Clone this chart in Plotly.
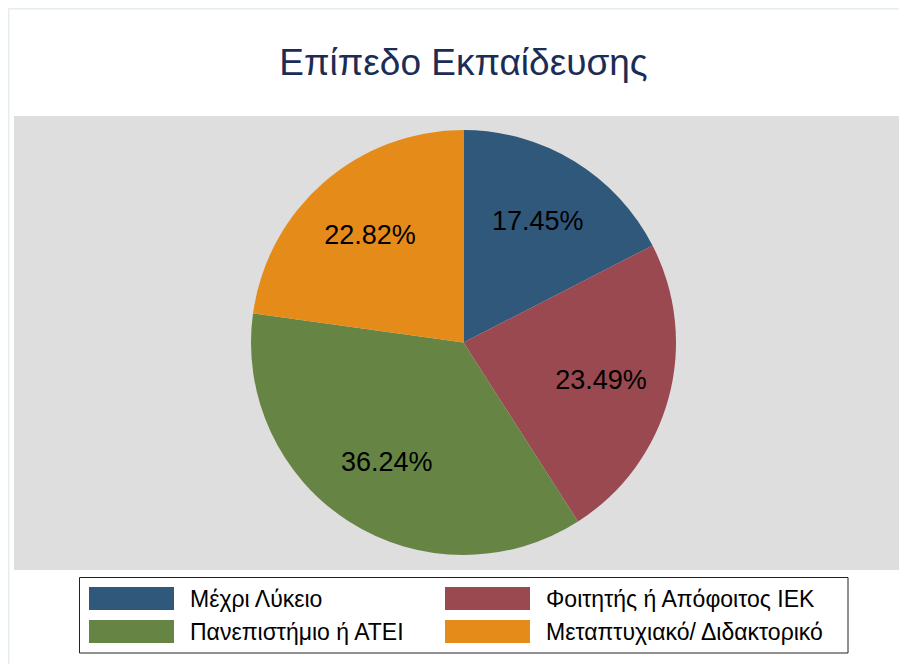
import plotly.graph_objects as go

# data
labels = ["Μέχρι Λύκειο", "Φοιτητής ή Απόφοιτος ΙΕΚ", "Πανεπιστήμιο ή ΑΤΕΙ", "Μεταπτυχιακό/ Διδακτορικό"]
shares = [17.45, 23.49, 36.24, 22.82]
colors = ["#30587b", "#9a4950", "#668443", "#e58b19"]

# the page body has an 8px margin, so the figure starts at (8, 8) in the window
OFF = 8
W, H = 907 - OFF, 664 - OFF
FONT = "Liberation Sans, Arial, sans-serif"

# plot region (gray), given in window pixels
L, R, T, B = 14 - OFF, 0, 116 - OFF, 94
PW, PH = W - L - R, H - T - B


def px_x(x):
    return (x - OFF - L) / PW


def px_y(y):
    return (H - B - (y - OFF)) / PH


pie_domain = dict(x=[px_x(20), px_x(907)], y=[px_y(555), px_y(130)])

fig = go.Figure()
# the slices
fig.add_trace(go.Pie(
    labels=labels,
    values=shares,
    sort=False,
    direction="clockwise",
    rotation=0,
    marker=dict(colors=colors, line=dict(width=0)),
    textinfo="none",
    hoverinfo="label+percent",
    domain=pie_domain,
    showlegend=False,
))
# transparent ring on top that carries the percentage labels at ~2/3 radius
fig.add_trace(go.Pie(
    labels=labels,
    values=shares,
    sort=False,
    direction="clockwise",
    rotation=0,
    hole=0.34,
    marker=dict(colors=["rgba(0,0,0,0)"] * len(shares), line=dict(width=0)),
    texttemplate="%{value:.2f}%",
    textposition="inside",
    insidetextorientation="horizontal",
    textfont=dict(family=FONT, size=27, color="#000000"),
    hoverinfo="skip",
    domain=pie_domain,
    showlegend=False,
))

shapes = [
    # light outer frame
    dict(type="line", xref="paper", yref="paper", x0=px_x(8), x1=px_x(907), y0=px_y(8.5), y1=px_y(8.5),
         line=dict(color="#e6edf1", width=2)),
    dict(type="line", xref="paper", yref="paper", x0=px_x(8.5), x1=px_x(8.5), y0=px_y(8), y1=px_y(664),
         line=dict(color="#e6edf1", width=2)),
    # legend box
    dict(type="rect", xref="paper", yref="paper", x0=px_x(79.5), x1=px_x(848), y0=px_y(577.5), y1=px_y(653),
         line=dict(color="#222222", width=1), fillcolor="white"),
]
annotations = []

# legend: 2 columns, swatch + text
col_x = [89, 445]
row_y = [587, 620]
for i, (lab, col) in enumerate(zip(labels, colors)):
    cx = col_x[i % 2]
    ry = row_y[i // 2]
    shapes.append(dict(type="rect", xref="paper", yref="paper",
                       x0=px_x(cx), x1=px_x(cx + 85), y0=px_y(ry + 23), y1=px_y(ry),
                       line=dict(width=0), fillcolor=col))
    annotations.append(dict(xref="paper", yref="paper", x=px_x(cx + 99), y=px_y(ry + 11.5),
                            text=lab, showarrow=False, xanchor="left", yanchor="middle",
                            font=dict(family=FONT, size=23, color="#000000")))

fig.update_layout(
    width=W, height=H,
    margin=dict(l=L, r=R, t=T, b=B),
    paper_bgcolor="white",
    plot_bgcolor="#dedede",
    title=dict(text="Επίπεδο Εκπαίδευσης", x=(463.5 - OFF) / W, xanchor="center",
               y=1 - (62 - OFF) / H, yanchor="middle",
               font=dict(family=FONT, size=37, color="#1c2d55")),
    shapes=shapes,
    annotations=annotations,
)
# gray plot area behind the pie
fig.add_shape(type="rect", xref="paper", yref="paper", x0=0, x1=1, y0=0, y1=1,
              fillcolor="#dedede", line=dict(width=0), layer="below")

fig.write_html("out.html")
